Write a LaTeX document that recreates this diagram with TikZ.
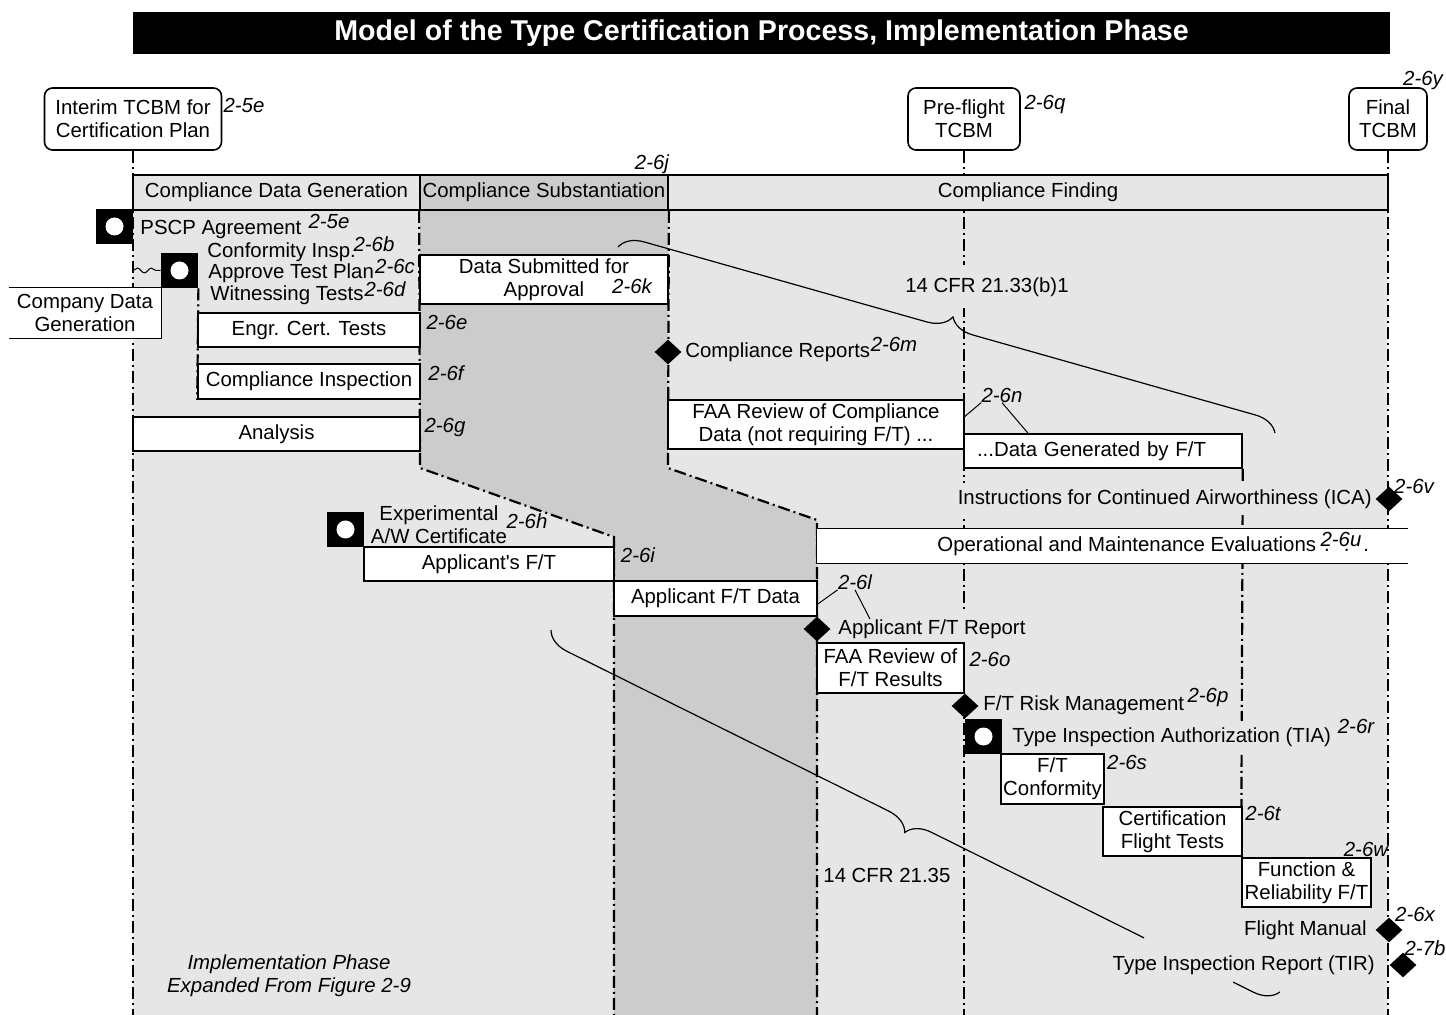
\documentclass[tikz,border=0pt]{standalone}
\usepackage{fontspec}
\setmainfont{Liberation Sans}
\usetikzlibrary{shapes.geometric,backgrounds,decorations.pathreplacing,decorations.pathmorphing}
\definecolor{bgl}{HTML}{E6E6E6}
\definecolor{bgd}{HTML}{CCCCCC}

\begin{document}
\begin{tikzpicture}[x=0.5pt, y=-0.5pt, font=\fontsize{10.2}{11.5}\selectfont,
        box/.style = {draw, line width=0.8pt, fill=white, inner sep=1pt, align=center},
        boxline/.style = {line width=0.8pt},
        tcbm/.style = {box, rounded corners=4pt, minimum height=31pt},
        phasecell/.style = {draw, line width=0.9pt, minimum height=17.5pt, inner sep=0pt},
        life/.style = {line width=1.1pt, dash pattern=on 6pt off 2pt on 1pt off 2pt},
        refno/.style = {font=\fontsize{10.2}{11.5}\selectfont\itshape, inner sep=0pt, align=center},
        lbl/.style = {inner sep=1pt, align=center},
        lblf/.style = {fill=bgl, inner xsep=1pt, inner ysep=3pt},
        startmark/.style = {fill=black, minimum width=18.5pt, minimum height=17.5pt, inner sep=0pt,
            path picture={\fill[white] (path picture bounding box.center) circle (4.5pt);}},
        mile/.style = {diamond, fill=black, inner sep=0pt, minimum width=13.5pt, minimum height=12.5pt},
        lead/.style = {line width=0.5pt},
        brc/.style = {line width=0.6pt, decorate, decoration={brace, amplitude=12pt}}]
        \useasboundingbox (0,0) rectangle (1446,1015);
        \coordinate (bot) at (0,1015);

        \node[fill=black, text=white, minimum width=628.5pt, minimum height=21pt,
            font=\fontsize{14.3}{17}\selectfont\bfseries] (title) at (761.5,33)
            {Model of the Type Certification Process, Implementation Phase};

        \node[tcbm, minimum width=88.5pt] (interim) at (133,119) {Interim TCBM for\\Certification Plan};
        \node[refno] at (244,105) {2-5e};
        \node[tcbm, minimum width=56pt] (preflight) at (964,119) {Pre-flight\\TCBM};
        \node[refno] at (1045,105) {2-6q};
        \node[tcbm, minimum width=39pt] (final) at (1388,119) {Final\\TCBM};
        \node[refno] at (1423,81) {2-6y};

        \node[phasecell, fill=bgl, minimum width=143.5pt] (ph1) at (276.5,192.5) {Compliance Data Generation};
        \node[phasecell, fill=bgd, minimum width=124pt] (ph2) at (544,192.5) {Compliance Substantiation};
        \node[phasecell, fill=bgl, minimum width=360pt] (ph3) at (1028,192.5) {Compliance Finding};
        \node[refno] at (652,164) {2-6j};

        \node[startmark] (pscp) at (114.5,226.5) {};
        \node[lbl, anchor=west] (pscpl) at (138,230) {PSCP Agreement};
        \node[refno] at (329,221) {2-5e};
        \node[startmark] (conf) at (179.5,270.5) {};
        \node[lbl, anchor=west] (confl) at (205,252) {Conformity Insp.};
        \node[refno] at (374,244) {2-6b};
        \node[lbl, anchor=west] (planl) at (206,273) {Approve Test Plan};
        \node[refno] at (395,266) {2-6c};
        \node[lbl, anchor=west] (witl) at (208,295) {Witnessing Tests};
        \node[refno] at (385,289) {2-6d};

        \node[fill=white, minimum width=76pt, minimum height=25pt, inner sep=1pt, align=center] (company) at (85,313) {Company Data\\Generation};
        \draw[boxline] (company.north west) -- (company.north east) -- (company.south east) -- (company.south west);
        \coordinate (wv) at (133,270.5);
        \draw[decorate, decoration={snake, amplitude=1.2pt, segment length=7pt}, line width=0.5pt] (wv) -- (conf.west);

        \node[box, minimum width=111pt, minimum height=17pt] (engr) at (309,330) {Engr. Cert. Tests};
        \node[refno] at (447,322) {2-6e};
        \node[box, minimum width=111pt, minimum height=17.5pt] (inspect) at (309,381.5) {Compliance Inspection};
        \node[refno] at (446,373) {2-6f};
        \node[box, minimum width=143.5pt, minimum height=17pt] (analysis) at (276.5,434) {Analysis};
        \node[refno] at (445,427) {2-6g};

        \node[box, minimum width=124pt, minimum height=24.5pt] (datasub) at (544,279.5) {Data Submitted for\\Approval};
        \node[refno] at (632,286) {2-6k};
        \node[mile] (crep) at (668,352) {};
        \node[lbl, anchor=west] (crepl) at (683,352) {Compliance Reports};
        \node[refno] at (894,344) {2-6m};

        \node[box, minimum width=148pt, minimum height=24.5pt] (faarev) at (816,424.5) {FAA Review of Compliance\\Data (not requiring F/T) ...};
        \node[box, text width=126pt, align=left, inner xsep=6.5pt, minimum height=17pt] (datagen) at (1103,451) {...Data Generated by F/T};
        \node[refno] (r6n) at (1002,395) {2-6n};
        \draw[lead] (r6n.south west) -- ([yshift=4pt]faarev.east);
        \draw[lead] (r6n.south) -- ([xshift=-37.5pt]datagen.north);

        \node[lblf, inner ysep=6pt] (cfr1) at (987,287) {14 CFR 21.33(b)1};

        \node[lblf, anchor=east] (ical) at (1374,499) {Instructions for Continued Airworthiness (ICA)};
        \node[mile] (ica) at (1389,499) {};
        \node[refno] at (1414,486) {2-6v};

        \node[fill=white, minimum width=295.5pt, minimum height=17pt, inner sep=0pt] (ops) at (1112.5,546) {};
        \draw[boxline] (ops.north east) -- (ops.north west) -- (ops.south west) -- (ops.south east);
        \node[anchor=west, inner sep=0pt] (opsl) at (937,546) {Operational and Maintenance Evaluations\hspace{4pt}.\hspace{7pt}.\hspace{7pt}.};
        \node[refno] at (1341,539) {2-6u};

        \node[startmark] (expcert) at (345.5,529.5) {};
        \node[lbl] (expl) at (439,525) {Experimental\\A/W Certificate};
        \node[refno] at (527,521) {2-6h};
        \node[box, minimum width=125pt, minimum height=17pt] (appft) at (489,564) {Applicant\textquotesingle s F/T};
        \node[refno] at (638,555) {2-6i};
        \node[box, minimum width=101.5pt, minimum height=17.5pt] (appdata) at (715.5,598.5) {Applicant F/T Data};
        \node[refno] (r6l) at (855,582) {2-6l};
        \node[mile] (afr) at (817,629) {};
        \node[lblf, anchor=west] (afrl) at (836,629) {Applicant F/T Report};
        \draw[lead] (r6l.south west) -- ([yshift=-2.75pt]appdata.east);
        \draw[lead] (r6l.south) -- ([xshift=17pt, yshift=-3pt]afrl.north west);

        \node[box, minimum width=73.5pt, minimum height=25pt] (faaft) at (890.5,668) {FAA Review of\\F/T Results};
        \node[refno] at (990,659) {2-6o};
        \node[mile] (risk) at (965,706) {};
        \node[lbl, anchor=west] (riskl) at (981,705) {F/T Risk Management};
        \node[refno] at (1208,697) {2-6p};
        \node[startmark] (tia) at (983.5,736.5) {};
        \node[lblf, anchor=west] (tial) at (1010,737) {Type Inspection Authorization (TIA)};
        \node[refno] at (1356,726) {2-6r};
        \node[box, minimum width=50.5pt, minimum height=25pt] (ftconf) at (1052.5,779) {F/T\\Conformity};
        \node[refno] at (1127,762) {2-6s};
        \node[box, minimum width=69.5pt, minimum height=24.5pt] (certft) at (1172.5,831.5) {Certification\\Flight Tests};
        \node[refno] at (1263,813) {2-6t};
        \node[box, minimum width=64.5pt, minimum height=24.5pt] (funcrel) at (1306.5,882.5) {Function \&\\Reliability F/T};
        \node[refno] at (1366,849) {2-6w};

        \node[mile] (fm) at (1389,930) {};
        \node[lbl, anchor=east] (fml) at (1369,930) {Flight Manual};
        \node[refno] at (1415,914) {2-6x};
        \node[mile] (tir) at (1403,965) {};
        \node[lbl, anchor=east] (tirl) at (1377,965) {Type Inspection Report (TIR)};
        \node[refno] at (1425,948) {2-7b};

        \node[lbl, anchor=west] (cfr2) at (821,875) {14 CFR 21.35};
        \node[refno] (impl) at (289,976) {Implementation Phase\\Expanded From Figure 2-9};

        \coordinate (b1s) at (618,247);
        \coordinate (b1e) at (1275,433);
        \draw[brc] (b1s) -- (b1e);
        \coordinate (b2s) at (551,630);
        \coordinate (b2e) at (1280,992);
        \begin{scope}
            \clip (0,0) rectangle (1144,1015);
            \draw[brc, decoration={mirror}] (b2s) -- (b2e);
        \end{scope}
        \begin{scope}
            \clip (1233,0) rectangle (1446,1015);
            \draw[brc, decoration={mirror}] (b2s) -- (b2e);
        \end{scope}

        \begin{scope}[on background layer]
            \fill[bgl] (133,175) rectangle (1388,1015);
            \fill[bgd] (420,175) -- (668,175) -- (668,468) -- (817,520) -- (817,1015)
                -- (614,1015) -- (614,537) -- (420,468) -- cycle;
            \coordinate (s1) at (420,468);
            \coordinate (s2) at (668,468);
            \coordinate (s3) at (614,537);
            \coordinate (s4) at (817,520);
            \draw[life] (interim) -- (interim |- bot);
            \draw[life] (preflight) -- (preflight |- bot);
            \draw[life] (final) -- (final |- bot);
            \draw[life] (ph2.south west) -- (s1) -- (s3) -- (s3 |- bot);
            \draw[life] (ph2.south east) -- (s2) -- (s4) -- (s4 |- bot);
            \draw[life] (conf.south east) -- (inspect.south west);
            \draw[life] (datagen.south east) -- (funcrel.north west);
        \end{scope}
    \end{tikzpicture}
\end{document}
